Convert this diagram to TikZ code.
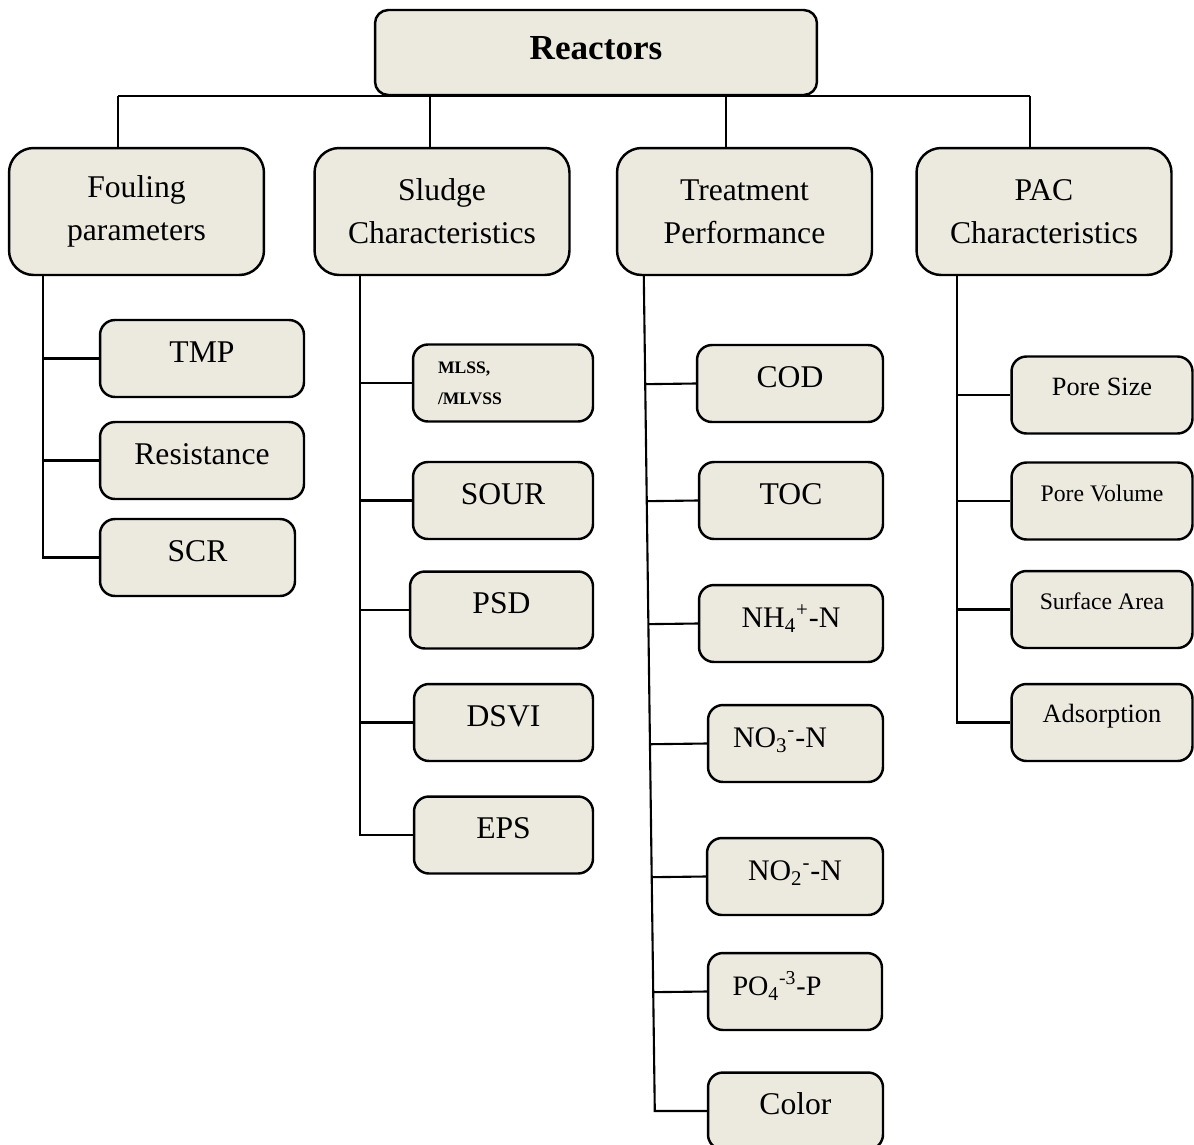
\documentclass[tikz,border=0pt]{standalone}
\usepackage{fontspec}
\setmainfont{Liberation Serif}
\usetikzlibrary{calc}
\definecolor{boxfill}{HTML}{ECE9DF}
\definecolor{ink}{HTML}{000000}

\begin{document}
\begin{tikzpicture}[
  x=0.02cm,
  y=-0.02cm,
  root/.style={draw=ink, fill=boxfill, line width=1.4pt, rounded corners=7.5pt,
    minimum width=8.84cm, minimum height=1.70cm, inner sep=0pt,
    font=\fontsize{20}{24}\selectfont\bfseries, text height=13.6pt, text depth=6.2pt},
  group/.style={draw=ink, fill=boxfill, line width=1.4pt, rounded corners=14pt,
    minimum width=5.1cm, minimum height=2.54cm, inner sep=0pt, align=center,
    font=\fontsize{18}{24.4}\selectfont},
  item/.style={draw=ink, fill=boxfill, line width=1.4pt, rounded corners=8.5pt,
    minimum height=1.54cm, inner sep=0pt, font=\fontsize{18}{21}\selectfont,
    text height=12pt, text depth=7.5pt},
  chem/.style={item, font=\fontsize{17}{20}\selectfont},
  leftchem/.style={chem, align=left, text width=2.5cm},
  pacitem/.style={item, minimum width=3.62cm, text height=10pt, text depth=10pt},
  link/.style={draw=ink, line width=1.2pt}
]
  \useasboundingbox (0,0) rectangle (1194,1144);
  \clip (0,0) rectangle (1194,1144);

  % Root and the four groups.
  \node[root] (reactors) at (596,52.5) {Reactors};
  \node[group] (fouling) at (136.5,211.5) {Fouling\\parameters};
  \node[group] (sludge) at (442,211.5) {Sludge\\Characteristics};
  \node[group] (treat) at (744.5,211.5) {Treatment\\Performance};
  \node[group] (pac) at (1044,211.5) {PAC\\Characteristics};

  % Fouling parameters.
  \node[item, minimum width=4.08cm] (tmp) at (202,358.5) {TMP};
  \node[item, minimum width=4.08cm] (resist) at (202,460.5) {Resistance};
  \node[item, minimum width=3.9cm] (scr) at (197.5,557.5) {SCR};

  % Sludge characteristics.
  \node[item, minimum width=3.6cm, align=left, text width=2.6cm, text height=,
    text depth=, font=\fontsize{10}{17.6}\selectfont\bfseries]
    (mlss) at (503,383) {MLSS,\\/MLVSS};
  \node[item, minimum width=3.6cm] (sour) at (503,500.5) {SOUR};
  \node[item, minimum width=3.66cm] (psd) at (501.5,610) {PSD};
  \node[item, minimum width=3.58cm] (dsvi) at (503.5,722.5) {DSVI};
  \node[item, minimum width=3.58cm] (eps) at (503.5,835) {EPS};

  % Treatment performance.
  \node[item, minimum width=3.72cm] (cod) at (790,383.5) {COD};
  \node[item, minimum width=3.68cm] (toc) at (791,500.5) {TOC};
  \node[chem, minimum width=3.68cm] (nh4) at (791,623.5)
    {NH\textsubscript{4}\textsuperscript{+}-N};
  \node[leftchem, minimum width=3.5cm] (no3) at (795.5,743.5)
    {NO\textsubscript{3}\textsuperscript{-}-N};
  \node[chem, minimum width=3.52cm] (no2) at (795,876.5)
    {NO\textsubscript{2}\textsuperscript{-}-N};
  \node[leftchem, minimum width=3.48cm, font=\fontsize{16}{19}\selectfont]
    (po4) at (795,991.5) {PO\textsubscript{4}\textsuperscript{-3}-P};
  \node[item, minimum width=3.5cm] (color) at (795.5,1111) {Color};

  % PAC characteristics.
  \node[pacitem, font=\fontsize{15}{18}\selectfont] (poresize) at (1102,395) {Pore Size};
  \node[pacitem, font=\fontsize{13.5}{16}\selectfont] (porevol) at (1102,501) {Pore Volume};
  \node[pacitem, font=\fontsize{13.5}{16}\selectfont] (surface) at (1102,609.5) {Surface Area};
  \node[pacitem, font=\fontsize{15}{18}\selectfont] (adsorb) at (1102,722.5) {Adsorption};

  % Top bar under the root, with a drop to each group.
  \foreach \x/\n in {118/fouling,430/sludge,726/treat,1030/pac}{
    \coordinate (drop-\n) at (\x,96);
    \draw[link] (drop-\n) -- (drop-\n |- \n.north);
  }
  \draw[link] (drop-fouling) -- (drop-pac);

  % Trunks and branches.
  \coordinate (ftop) at ($(fouling.south west)+(35,0)$);
  \draw[link] (ftop) |- (scr.west);
  \foreach \n in {tmp,resist}
    \draw[link] (ftop |- \n.west) -- (\n.west);

  \coordinate (stop) at ($(sludge.south west)+(46.5,0)$);
  \draw[link] (stop) |- (eps.west);
  \foreach \n in {mlss,sour,psd,dsvi}
    \draw[link] (stop |- \n.west) -- (\n.west);

  \coordinate (ttop) at ($(treat.south west)+(28,0)$);
  \coordinate (tbot) at ($(color.west)+(-52,0)$);
  \draw[link] (ttop) -- (tbot) -- (color.west);
  \foreach \n in {cod,toc,nh4,no3,no2,po4}
    \draw[link] ($(ttop)!(\n.west)!(tbot)$) -- (\n.west);

  \coordinate (ptop) at ($(pac.south west)+(41.5,0)$);
  \draw[link] (ptop) |- (adsorb.west);
  \foreach \n in {poresize,porevol,surface}
    \draw[link] (ptop |- \n.west) -- (\n.west);
\end{tikzpicture}
\end{document}
